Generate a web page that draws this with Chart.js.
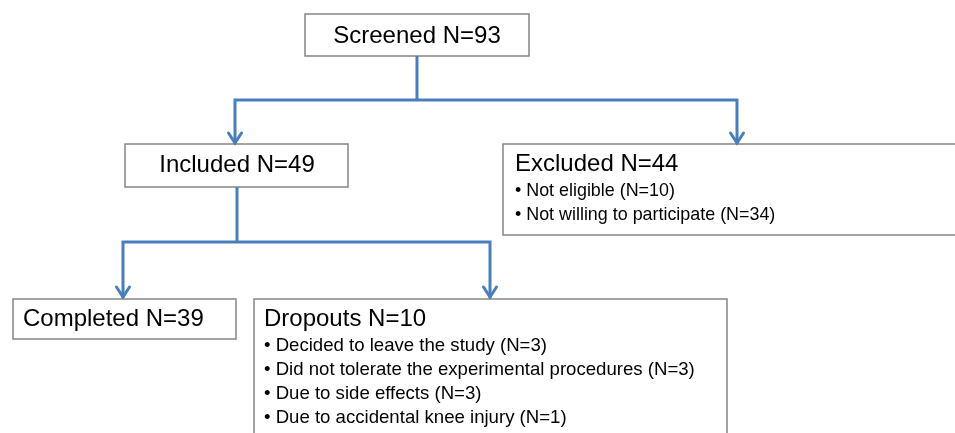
<!DOCTYPE html>
<html lang="en">
<head>
    <meta charset="UTF-8">
    <title>Flow diagram</title>
    <style>
        html, body {
            margin: 0;
            padding: 0;
            background: #ffffff;
        }
        canvas {
            display: block;
        }
    </style>
</head>
<body>
    <canvas id="flowChart" width="955" height="433"></canvas>

    <script src="https://cdn.jsdelivr.net/npm/chart.js"></script>
    <script>
        // Data
        const nodeTitles = ['Screened N=93', 'Included N=49', 'Excluded N=44', 'Completed N=39', 'Dropouts N=10'];
        const excludedReasons = ['Not eligible (N=10)', 'Not willing to participate (N=34)'];
        const dropoutReasons = [
            'Decided to leave the study (N=3)',
            'Did not tolerate the experimental procedures (N=3)',
            'Due to side effects (N=3)',
            'Due to accidental knee injury (N=1)'
        ];
        const nodeDetails = [[], [], excludedReasons, [], dropoutReasons];

        // Layout (pixels in a 955x433 space)
        const boxes = [
            { x0: 305, y0: 14,  x1: 529, y1: 56,  align: 'center', tx: 417, ty: 43,  small: 18 },
            { x0: 125, y0: 144, x1: 348, y1: 187, align: 'center', tx: 237, ty: 172, small: 18 },
            { x0: 503, y0: 144, x1: 980, y1: 235, align: 'left',   tx: 515, ty: 171, small: 17.9 },
            { x0: 13,  y0: 299, x1: 236, y1: 339, align: 'left',   tx: 23,  ty: 326, small: 18 },
            { x0: 254, y0: 299, x1: 727, y1: 450, align: 'left',   tx: 264, ty: 326, small: 18.6 }
        ];
        const detailStep = 24;
        const detailOffset = 25;

        const connectors = [
            { pts: [[417, 56], [417, 100]], arrow: false },
            { pts: [[417, 100], [235, 100], [235, 144]], arrow: true },
            { pts: [[417, 100], [737, 100], [737, 144]], arrow: true },
            { pts: [[237, 187], [237, 242]], arrow: false },
            { pts: [[237, 242], [123, 242], [123, 298]], arrow: true },
            { pts: [[237, 242], [490, 242], [490, 298]], arrow: true }
        ];

        const lineColor = '#4a7ebb';
        const boxColor = '#858585';
        const fontFamily = '"Liberation Sans", Arial, sans-serif';

        // draws boxes, text and arrow heads through the chart scales
        const flowPlugin = {
            id: 'flow',
            beforeDatasetsDraw(chart) {
                const ctx = chart.ctx;
                const sx = chart.scales.x, sy = chart.scales.y;
                ctx.save();
                boxes.forEach((b, i) => {
                    const x0 = sx.getPixelForValue(b.x0), x1 = sx.getPixelForValue(b.x1);
                    const y0 = sy.getPixelForValue(b.y0), y1 = sy.getPixelForValue(b.y1);
                    ctx.fillStyle = '#ffffff';
                    ctx.fillRect(x0, y0, x1 - x0, y1 - y0);
                    ctx.strokeStyle = boxColor;
                    ctx.lineWidth = 1.5;
                    ctx.strokeRect(x0, y0, x1 - x0, y1 - y0);

                    ctx.fillStyle = '#000000';
                    ctx.textBaseline = 'alphabetic';
                    ctx.textAlign = b.align;
                    ctx.font = '24px ' + fontFamily;
                    const tx = sx.getPixelForValue(b.tx);
                    ctx.fillText(nodeTitles[i], tx, sy.getPixelForValue(b.ty));

                    ctx.font = b.small + 'px ' + fontFamily;
                    ctx.textAlign = 'left';
                    nodeDetails[i].forEach((d, k) => {
                        const y = b.ty + detailOffset + k * detailStep;
                        ctx.fillText('\u2022 ' + d, tx, sy.getPixelForValue(y));
                    });
                });
                ctx.restore();
            },
            afterDatasetsDraw(chart) {
                const ctx = chart.ctx;
                const sx = chart.scales.x, sy = chart.scales.y;
                ctx.save();
                ctx.strokeStyle = lineColor;
                ctx.lineWidth = 3;
                ctx.lineCap = 'round';
                ctx.lineJoin = 'miter';
                connectors.forEach(c => {
                    if (!c.arrow) return;
                    const tip = c.pts[c.pts.length - 1];
                    const px = sx.getPixelForValue(tip[0]);
                    const py = sy.getPixelForValue(tip[1]);
                    ctx.beginPath();
                    ctx.moveTo(px - 6.5, py - 11);
                    ctx.lineTo(px, py - 1);
                    ctx.lineTo(px + 6.5, py - 11);
                    ctx.stroke();
                });
                ctx.restore();
            }
        };

        const ctx = document.getElementById('flowChart').getContext('2d');
        const chart = new Chart(ctx, {
            type: 'line',
            data: {
                datasets: connectors.map(c => ({
                    data: c.pts.map(p => ({ x: p[0], y: p[1] })),
                    borderColor: lineColor,
                    borderWidth: 3,
                    borderJoinStyle: 'miter',
                    pointRadius: 0,
                    tension: 0,
                    fill: false
                }))
            },
            options: {
                responsive: false,
                animation: false,
                layout: { padding: 0 },
                plugins: {
                    legend: { display: false },
                    tooltip: { enabled: false }
                },
                scales: {
                    x: { type: 'linear', min: 0, max: 955, display: false },
                    y: { type: 'linear', min: 0, max: 433, reverse: true, display: false }
                }
            },
            plugins: [flowPlugin]
        });
    </script>
</body>
</html>
